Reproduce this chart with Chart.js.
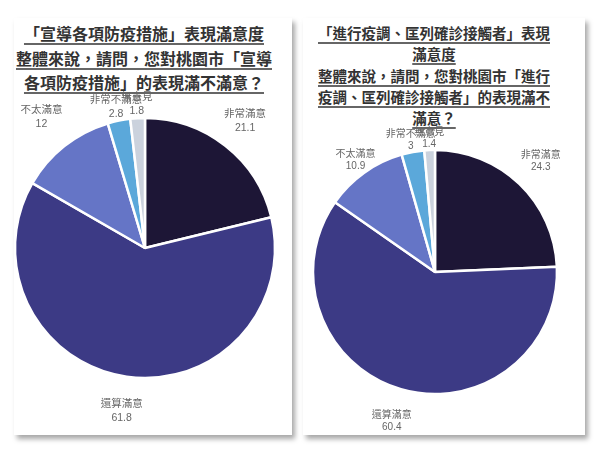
<!DOCTYPE html>
<html><head><meta charset="utf-8">
<script src="https://cdn.jsdelivr.net/npm/chart.js@4"></script>
<style>
body{margin:0;background:#fff;width:600px;height:450px;position:relative;overflow:hidden;font-family:"Liberation Sans","Noto Sans CJK TC",sans-serif;}
.card{position:absolute;background:#fff;box-shadow:3px 4px 5px rgba(0,0,0,0.35);}
.title{position:absolute;text-align:center;font-weight:bold;color:#333;font-family:"Noto Sans CJK TC",sans-serif;}
.title div{white-space:nowrap;}
.title span{text-decoration:underline;text-decoration-thickness:2px;text-underline-offset:3px;text-decoration-color:#666;}
canvas{position:absolute;top:0;}
</style></head>
<body>
<div class="card" style="left:14px;top:18px;width:278px;height:417px;"></div>
<div class="card" style="left:303px;top:18px;width:282px;height:417px;"></div>
<div class="title" id="t1" style="left:4px;width:280px;top:21px;font-size:16px;line-height:24.5px;"></div>
<div class="title" id="t2" style="left:294px;width:280px;top:22px;font-size:14.5px;line-height:21.25px;"></div>
<canvas id="c1" width="300" height="450" style="left:0;"></canvas>
<canvas id="c2" width="300" height="450" style="left:300px;"></canvas>
<script>
const categories = ["非常滿意", "還算滿意", "不太滿意", "非常不滿意", "無意見"];
const valuesPrevention = [21.1, 61.8, 12, 2.8, 1.8];
const valuesTracing = [24.3, 60.4, 10.9, 3, 1.4];
const titlePrevention = ["「宣導各項防疫措施」表現滿意度", "整體來說，請問，您對桃園市「宣導", "各項防疫措施」的表現滿不滿意？"];
const titleTracing = ["「進行疫調、匡列確診接觸者」表現", "滿意度", "整體來說，請問，您對桃園市「進行", "疫調、匡列確診接觸者」的表現滿不", "滿意？"];
const colors = ["#1d1636", "#3c3a85", "#6575c6", "#5ba8da", "#cbd2dd"];

function setTitle(id, lines){
  const el = document.getElementById(id);
  lines.forEach(l => { const d = document.createElement('div'); const s = document.createElement('span'); s.textContent = l; d.appendChild(s); el.appendChild(d); });
}
setTitle('t1', titlePrevention);
setTitle('t2', titleTracing);

const labelPlugin = {
  id: 'sliceLabels',
  afterDatasetsDraw(chart, args, opts){
    const ctx = chart.ctx;
    const meta = chart.getDatasetMeta(0);
    const labels = chart.data.labels;
    const data = chart.data.datasets[0].data;
    ctx.save();
    ctx.font = opts.font;
    ctx.fillStyle = opts.color;
    ctx.textAlign = 'center';
    ctx.textBaseline = 'middle';
    meta.data.forEach((arc, i) => {
      const p = arc.getProps(['x','y','startAngle','endAngle','outerRadius'], true);
      const mid = (p.startAngle + p.endAngle) / 2;
      const R = p.outerRadius + opts.offsets[i];
      const cx = p.x + Math.cos(mid) * R, cy = p.y + Math.sin(mid) * R;
      ctx.fillText(labels[i], cx, cy - opts.gap / 2);
      ctx.fillText(String(data[i]), cx, cy + opts.gap / 2);
    });
    ctx.restore();
  }
};

function makePie(id, values, radius, padding, labelOpts){
  new Chart(document.getElementById(id), {
    type: 'pie',
    data: { labels: categories, datasets: [{ data: values, backgroundColor: colors, borderColor: '#ffffff', borderWidth: 2.5 }] },
    options: {
      responsive: false, animation: false, radius: radius,
      layout: { padding: padding },
      plugins: { legend: { display: false }, tooltip: { enabled: false }, sliceLabels: labelOpts }
    },
    plugins: [labelPlugin]
  });
}

makePie('c1', valuesPrevention, 130, {left:15, right:25, top:118, bottom:72},
  {font: '10.5px "Liberation Sans", "Noto Sans CJK TC", sans-serif', color: '#666', gap: 14, offsets: [32, 35, 37, 14, 14]});
makePie('c2', valuesTracing, 122, {left:13, right:43, top:150, bottom:56},
  {font: '10px "Liberation Sans", "Noto Sans CJK TC", sans-serif', color: '#666', gap: 12, offsets: [31, 33, 15, 11.5, 11.5]});
</script>
</body></html>
